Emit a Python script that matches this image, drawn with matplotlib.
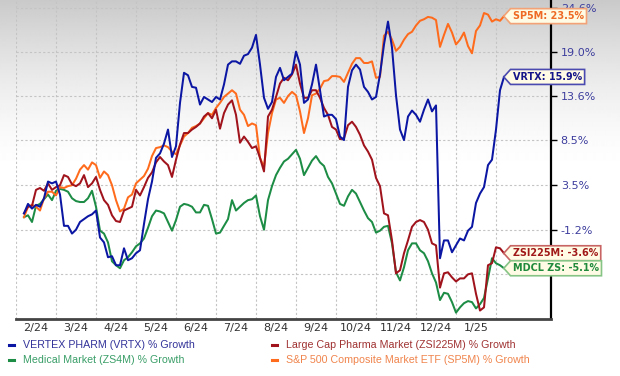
import numpy as np
import matplotlib
matplotlib.use("Agg")
import matplotlib.pyplot as plt
from matplotlib.path import Path
from matplotlib.lines import Line2D
from matplotlib.ticker import FixedLocator, FixedFormatter, NullLocator

# ---------------- data (% growth since start) ----------------
month_labels = ["2/24", "3/24", "4/24", "5/24", "6/24", "7/24",
                "8/24", "9/24", "10/24", "11/24", "12/24", "1/25"]
ytick_values = [24.6, 19.0, 13.6, 8.5, 3.5, -1.2, -5.7]
ytick_labels = ["24.6%", "19.0%", "13.6%", "8.5%", "3.5%", "-1.2%", ""]  # last one hidden under the tags

vrtx = [0.5, 1.5, 1.0, 1.4, 1.2, 2.1, 3.9, 3.7, 3.9, 2.5,
        -0.8, -0.8, -1.6, -1.2, -0.4, -0.1, 0.2, 0.4, 0.8, -2.0,
        -2.5, -4.0, -3.9, -4.8, -4.8, -3.1, -4.3, -4.1, -3.6, -3.3,
        -0.6, 2.0, 3.9, 6.5, 7.0, 8.1, 9.7, 6.6, 7.8, 12.8,
        16.4, 16.1, 14.7, 14.6, 12.6, 13.5, 13.2, 12.9, 13.5, 13.2,
        15.0, 17.4, 17.8, 17.8, 17.5, 18.5, 18.7, 19.5, 21.1, 17.4,
        13.4, 12.1, 12.9, 15.9, 17.0, 15.5, 15.9, 16.3, 19.0, 17.4,
        12.8, 13.2, 15.0, 17.4, 14.3, 11.2, 11.4, 11.4, 10.9, 8.9,
        8.5, 14.7, 16.7, 17.4, 16.8, 14.7, 14.1, 13.2, 13.5, 16.2,
        19.9, 22.8, 19.5, 13.7, 9.7, 8.5, 11.2, 11.9, 11.4, 10.6,
        12.0, 13.2, 11.8, 12.5, -4.1, -2.3, -2.3, -3.5, -2.8, -2.1,
        -2.3, -1.3, -0.9, 1.6, 2.6, 3.3, 5.7, 6.3, 9.7, 14.3,
        15.9]

sp5m = [0.1, 1.2, 1.4, 1.2, 0.8, 2.1, 2.8, 2.8, 2.4, 3.3,
        3.2, 3.4, 3.5, 4.2, 5.2, 5.7, 5.2, 6.0, 5.7, 4.3,
        5.0, 4.6, 3.5, 1.9, 0.7, 1.0, 2.2, 2.5, 3.7, 4.1,
        4.5, 5.3, 6.7, 7.6, 7.7, 7.9, 7.7, 7.2, 6.9, 7.9,
        8.9, 9.3, 9.9, 10.1, 10.4, 11.0, 11.6, 11.4, 12.2, 12.8,
        13.5, 13.9, 14.3, 13.9, 12.0, 11.4, 10.1, 10.4, 10.2, 6.5,
        5.5, 9.3, 11.6, 13.2, 13.4, 12.8, 13.6, 14.1, 13.7, 11.8,
        9.3, 11.0, 13.7, 13.9, 14.5, 15.4, 15.5, 16.0, 16.0, 15.9,
        15.3, 16.4, 17.5, 18.2, 18.2, 17.6, 17.6, 17.8, 15.8, 15.9,
        21.0, 21.5, 20.5, 19.1, 19.6, 20.5, 21.2, 21.5, 22.3, 22.9,
        23.1, 23.4, 23.3, 23.0, 19.6, 21.1, 22.5, 21.4, 19.9, 20.5,
        21.4, 19.7, 18.8, 21.6, 22.3, 23.9, 23.7, 22.8, 23.1, 22.9,
        23.5]

zsi225m = [0.5, 1.2, 1.3, 3.0, 3.2, 2.9, 3.7, 3.0, 3.3, 3.5,
           4.6, 4.4, 3.6, 3.4, 3.7, 4.6, 3.3, 3.7, 4.4, 3.0,
           1.9, 1.4, 0.3, -0.3, -0.4, 0.8, 1.0, 1.2, 3.0, 2.4,
           3.3, 4.3, 4.9, 6.0, 6.6, 6.1, 5.7, 4.4, 6.3, 8.0,
           9.3, 9.3, 9.7, 10.0, 10.4, 11.2, 11.6, 11.0, 12.0, 9.8,
           11.6, 12.6, 13.1, 11.4, 8.2, 8.9, 8.3, 7.6, 7.8, 6.5,
           5.0, 11.2, 12.0, 13.5, 15.1, 15.8, 15.5, 16.2, 17.4, 15.1,
           13.4, 13.4, 14.3, 14.3, 13.4, 12.2, 11.4, 10.0, 9.7, 8.6,
           8.7, 10.2, 10.6, 10.0, 9.1, 7.9, 7.2, 6.3, 4.3, 3.4,
           0.5, 0.3, -2.3, -5.6, -5.3, -3.6, -2.3, -0.9, -0.4, -0.2,
           -0.4, -1.2, -2.6, -2.8, -7.0, -5.6, -5.5, -6.0, -6.4, -6.1,
           -6.1, -5.7, -5.6, -7.6, -9.2, -8.9, -4.8, -4.6, -3.0, -3.1,
           -3.6]

mdcl = [0.1, 0.3, -0.4, 1.3, 1.5, 2.0, 2.5, 1.9, 2.9, 3.1,
        3.0, 2.8, 2.1, 1.8, 1.7, 1.7, 2.1, 2.9, 1.2, -1.3,
        -1.6, -2.5, -4.4, -4.8, -5.1, -4.3, -4.0, -3.5, -2.9, -2.6,
        -2.1, -1.0, 0.2, 0.8, 0.7, 0.5, -0.4, -1.3, -0.2, 1.2,
        1.5, 1.4, 1.2, 0.6, 0.6, 1.4, 1.3, -0.1, -1.6, -1.5,
        -0.8, -0.1, 1.9, 0.8, 1.2, 1.6, 1.9, 2.0, 2.4, 0.2,
        -1.2, 1.9, 3.4, 4.6, 5.4, 6.1, 6.4, 6.9, 7.4, 6.4,
        4.6, 5.4, 6.2, 6.7, 6.0, 5.6, 4.4, 3.7, 2.6, 1.5,
        1.3, 2.3, 3.0, 2.6, 1.7, 0.8, 0.0, -0.4, -1.5, -1.3,
        -0.9, -0.8, -2.6, -5.5, -6.3, -5.0, -3.3, -2.6, -2.6, -3.3,
        -3.6, -4.4, -5.6, -6.5, -8.2, -7.5, -7.6, -8.4, -9.4, -8.9,
        -8.5, -8.3, -8.4, -9.0, -8.6, -8.0, -6.1, -4.1, -4.6, -4.8,
        -5.1]

# time axis: months elapsed since 1 Feb 2024 (samples ~every 3 days, 7 Feb 2024 .. 5 Feb 2025)
t = np.linspace(0.2, 12.2, len(vrtx))
BASE = 100.0  # growth index base (log-scaled growth axis)

# ---------------- figure ----------------
W, H = 620, 376
fig = plt.figure(figsize=(W / 100, H / 100), dpi=100)

# background gradient (grey at top fading to white)
bg = fig.add_axes([0, 0, 1, 1], zorder=-10)
rows = np.arange(H)
tt = np.clip(rows / 175.0, 0, 1)
shade = 1 - 0.21 * (1 - tt) ** 1.6
bg.imshow(np.repeat(shade[:, None], 2, axis=1), cmap="gray", vmin=0, vmax=1,
          aspect="auto", extent=[0, 1, 0, 1], origin="upper", interpolation="bilinear")
bg.set_axis_off()

ax = fig.add_axes([16 / W, 1 - 319 / H, (551 - 16) / W, 319 / H])
ax.patch.set_alpha(0)

c_vrtx, c_zsi, c_mdcl, c_sp5 = "#0b16a3", "#a0131c", "#1d8c45", "#ff6b1c"

ax.plot(t, BASE + np.array(mdcl), color=c_mdcl, lw=1.45, zorder=3, solid_joinstyle="round")
ax.plot(t, BASE + np.array(sp5m), color=c_sp5, lw=1.45, zorder=3, solid_joinstyle="round")
ax.plot(t, BASE + np.array(zsi225m), color=c_zsi, lw=1.45, zorder=3, solid_joinstyle="round")
ax.plot(t, BASE + np.array(vrtx), color=c_vrtx, lw=1.45, zorder=3, solid_joinstyle="round")

ax.set_yscale("log")
ax.set_ylim(90.0, 125.6)
ax.set_xlim(0, 13.375)

# y axis on the right
ax.yaxis.tick_right()
ax.yaxis.set_major_locator(FixedLocator([BASE + v for v in ytick_values]))
ax.yaxis.set_major_formatter(FixedFormatter(ytick_labels))
ax.yaxis.set_minor_locator(NullLocator())
ax.tick_params(axis="y", which="major", direction="out", length=4, width=1,
               color="black", labelcolor="#3d3d9e", labelsize=8, pad=3)

# x axis: month labels centred in each month, grid at month boundaries
ax.xaxis.set_major_locator(FixedLocator(np.arange(len(month_labels)) + 0.5))
ax.xaxis.set_major_formatter(FixedFormatter(month_labels))
ax.xaxis.set_minor_locator(FixedLocator(np.arange(len(month_labels) + 1)))
ax.tick_params(axis="x", which="both", length=0, labelsize=8, labelcolor="#333333", pad=3)

ax.grid(which="minor", axis="x", color="#c4c4c4", lw=0.8, ls=(0, (2, 2)))
ax.grid(which="major", axis="y", color="#c4c4c4", lw=0.8, ls=(0, (2, 2)))
ax.grid(which="major", axis="x", visible=False)
ax.set_axisbelow(True)

for s in ("left", "top"):
    ax.spines[s].set_visible(False)
ax.spines["bottom"].set_color("#444444")
ax.spines["bottom"].set_linewidth(2.0)
ax.spines["right"].set_color("black")
ax.spines["right"].set_linewidth(1.6)


# ---------------- end-of-series tags ----------------
def tag_box(x0, y0, width, height, mutation_size):
    pad = 0.26 * mutation_size
    x0 -= pad
    y0 -= pad
    x1 = x0 + width + 2 * pad
    y1 = y0 + height + 2 * pad
    ym = (y0 + y1) / 2
    tip = x0 - 0.45 * (y1 - y0)
    return Path([(tip, ym), (x0, y0), (x1, y0), (x1, y1), (x0, y1), (tip, ym)], closed=True)


tags = [("SP5M", sp5m, "#ee6a25", "#f2a276"),
        ("VRTX", vrtx, "#14148a", "#4a4ab0"),
        ("ZSI225M", zsi225m, "#a01818", "#c86464"),
        ("MDCL ZS", mdcl, "#1f8a3c", "#86c486")]
for name, vals, tc, ec in tags:
    ax.annotate(f"{name}: {vals[-1]:.1f}%", xy=(t[-1], BASE + vals[-1]),
                xytext=(9, 0), textcoords="offset pixels", ha="left", va="center",
                fontsize=6.9, fontweight="bold", color=tc,
                bbox=dict(boxstyle=tag_box, fc="#fffbe4", ec=ec, lw=1.2),
                annotation_clip=False, zorder=8)

# ---------------- legend (manual, two columns) ----------------
legend_items = [
    ("VERTEX PHARM (VRTX) % Growth", c_vrtx, "#33339a", 9, 345),
    ("Medical Market (ZS4M) % Growth", c_mdcl, "#3a9e68", 9, 360),
    ("Large Cap Pharma Market (ZSI225M) % Growth", c_zsi, "#a03232", 272, 345),
    ("S&P 500 Composite Market ETF (SP5M) % Growth", c_sp5, "#f0844c", 272, 360),
]
for label, lc, tcol, px, py in legend_items:
    fig.add_artist(Line2D([px / W, (px + 5) / W], [1 - py / H, 1 - py / H],
                          color=lc, lw=2.2, transform=fig.transFigure))
    fig.text((px + 14) / W, 1 - py / H, label, color=tcol, fontsize=7.7,
             family="Liberation Sans", ha="left", va="center")

fig.savefig("out.png", dpi=100)
